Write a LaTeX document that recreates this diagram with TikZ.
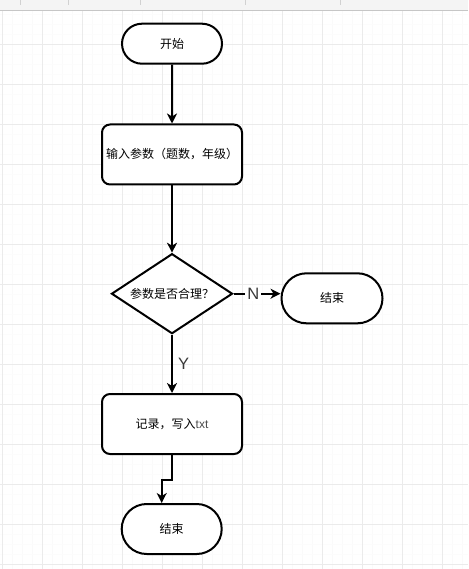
\documentclass[tikz,border=0pt]{standalone}
\usepackage{fontspec}
\setmainfont{Liberation Sans}
\newfontfamily\cjk{Noto Sans CJK SC}
\newfontfamily\lat{Liberation Sans}
\usetikzlibrary{shapes.geometric,shapes.misc,arrows.meta}
\definecolor{gridmajor}{HTML}{EBEBEB}
\definecolor{gridminor}{HTML}{FAFAFA}
\definecolor{gridminorh}{HTML}{FCFCFC}
\definecolor{hdrfill}{HTML}{F4F4F4}
\definecolor{hdrline}{HTML}{C6C6C6}
\definecolor{lblgray}{HTML}{3A3A3A}
\begin{document}
\begin{tikzpicture}[x=1pt,y=-1pt,
  every node/.style={font=\cjk\fontsize{12}{14}\selectfont},
  term/.style={draw, line width=2pt, rounded rectangle, minimum width=100pt, minimum height=40pt, inner sep=0pt, fill=white},
  proc/.style={draw, line width=2pt, rounded corners=8pt, minimum width=140pt, minimum height=60pt, inner sep=0pt, fill=white},
  dec/.style={draw, line width=2pt, diamond, aspect=1.5, minimum width=121pt, minimum height=80pt, inner sep=0pt, fill=white},
  conn/.style={line width=2pt, -{Stealth[length=10pt,width=10pt,inset=3pt]}},
  elabel/.style={font=\lat\fontsize{16.5}{18}\selectfont, text=lblgray, inner sep=2pt}
]
\useasboundingbox (0,0) rectangle (468,569);
\fill[white] (0,0) rectangle (468,569);
% grid
\foreach \x in {2.2,12.2,...,465} \draw[gridminor, line width=1pt] (\x,10) -- (\x,569);
\foreach \y in {14.3,24.3,...,569} \draw[gridminorh, line width=1pt] (0,\y) -- (468,\y);
\foreach \x in {2.2,42.2,...,465} \draw[gridmajor, line width=1pt] (\x,10) -- (\x,569);
\foreach \y in {44.3,84.3,...,569} \draw[gridmajor, line width=1pt] (0,\y) -- (468,\y);
% header strip
\fill[hdrfill] (0,0) rectangle (468,10);
\draw[hdrline, line width=1pt] (0,10.5) -- (468,10.5);
\foreach \x in {20,68,140,245,340} \draw[black!18, line width=0.8pt] (\x,0) -- (\x,5);

% nodes
\node[term] (start) at (172,43.7) {开始};
\node[proc] (inp) at (172,154.5) {输入参数（题数，年级）};
\node[dec] (chk) at (172,293.7) {参数是否合理？};
\node[term, minimum width=101pt, minimum height=50pt] (endA) at (332,298.3) {结束};
\node[proc] (rec) at (172,424) {记录，写入{\lat\color{black!70}txt}};
\node[term, minimum height=50pt] (endB) at (171.7,529) {结束};

% connectors
\draw[conn] (start) -- (inp);
\draw[conn] (inp) -- (chk);
\draw[conn] (chk.east) -- node[elabel, fill=white, pos=0.42] {N} (chk.east -| endA.west);
\draw[conn] (chk.south) -- node[elabel, right=3pt, pos=0.5] {Y} (rec.north);
\draw[conn] (rec.south) -- ++(0,25) -| ([xshift=-10pt]endB.north);
\end{tikzpicture}
\end{document}
